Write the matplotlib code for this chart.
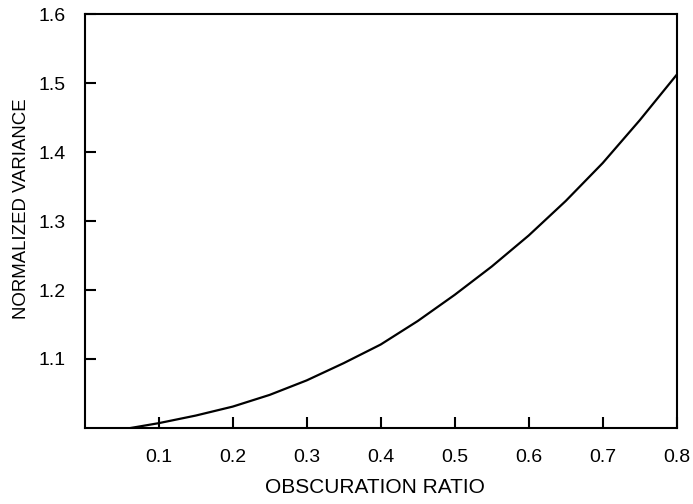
import matplotlib
matplotlib.use('Agg')
import matplotlib.pyplot as plt

# normalized variance against obscuration ratio
ratio = [0.062, 0.10, 0.15, 0.20, 0.25, 0.30, 0.35, 0.40, 0.45,
         0.50, 0.55, 0.60, 0.65, 0.70, 0.75, 0.80]
variance = [1.000, 1.007, 1.018, 1.031, 1.048, 1.069, 1.094, 1.121, 1.155,
            1.193, 1.234, 1.279, 1.329, 1.384, 1.446, 1.512]

x_ticks = [0.1, 0.2, 0.3, 0.4, 0.5, 0.6, 0.7, 0.8]
y_ticks = [1.1, 1.2, 1.3, 1.4, 1.5, 1.6]

plt.rcParams['font.family'] = ['Liberation Sans', 'DejaVu Sans']

fig = plt.figure(figsize=(6.93, 5.04), dpi=100)
ax = fig.add_axes([0.1222, 0.1508, 0.8543, 0.8214])
ax.plot(ratio, variance, color='black', linewidth=1.6)

ax.set_xlim(0, 0.8)
ax.set_ylim(1.0, 1.6)
ax.set_xticks(x_ticks)
ax.set_xticklabels(['%.1f' % t for t in x_ticks])
ax.set_yticks(y_ticks)
ax.set_yticklabels(['%.1f' % t for t in y_ticks])
ax.tick_params(direction='in', length=8, width=1.5, labelsize=14)
ax.tick_params(axis='x', pad=15)
ax.tick_params(axis='y', pad=13.5)
for spine in ax.spines.values():
    spine.set_linewidth(1.5)

ax.set_xlabel('OBSCURATION RATIO', fontsize=15, labelpad=9)
ax.set_ylabel('NORMALIZED VARIANCE', fontsize=13.4, labelpad=6)
# nudge the axis titles along their axes
ax.xaxis.label.set_x(0.491)
ax.yaxis.label.set_y(0.529)

fig.savefig('out.png', dpi=100)
